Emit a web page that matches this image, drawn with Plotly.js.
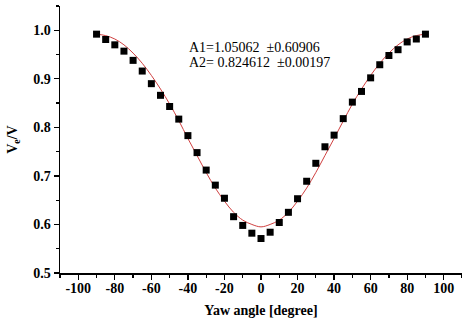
<!DOCTYPE html>
<html>
<head>
<meta charset="utf-8">
<script src="https://cdn.plot.ly/plotly-3.0.1.min.js"></script>
<style>html,body{margin:0;padding:0;background:#fff;}#chart{width:462px;height:323px;}</style>
</head>
<body>
<div id="chart"></div>
<script>
// Measured data (yaw angle in degrees vs velocity ratio)
const yawAngle = [-90,-85,-80,-75,-70,-65,-60,-55,-50,-45,-40,-35,-30,-25,-20,-15,-10,-5,0,5,10,15,20,25,30,35,40,45,50,55,60,65,70,75,80,85,90];
const velocityRatio = [0.992,0.981,0.970,0.957,0.938,0.916,0.890,0.866,0.843,0.817,0.783,0.748,0.712,0.681,0.654,0.616,0.598,0.582,0.571,0.584,0.604,0.625,0.653,0.689,0.726,0.760,0.784,0.818,0.852,0.874,0.902,0.929,0.948,0.960,0.976,0.982,0.992];

// Fit curve
const fitAngle = [-90,-85,-80,-75,-70,-65,-60,-55,-50,-45,-40,-35,-30,-25,-20,-15,-10,-5,0,5,10,15,20,25,30,35,40,45,50,55,60,65,70,75,80,85,90];
const fitRatio = [0.992,0.989,0.982,0.970,0.953,0.932,0.907,0.879,0.848,0.814,0.777,0.742,0.707,0.675,0.648,0.625,0.609,0.600,0.595,0.600,0.609,0.625,0.648,0.675,0.707,0.742,0.777,0.813,0.848,0.879,0.907,0.932,0.953,0.970,0.982,0.989,0.992];

const xTicks = [-100,-80,-60,-40,-20,0,20,40,60,80,100];
const yTicks = [0.5,0.6,0.7,0.8,0.9,1.0];
const yTickText = ['0.5','0.6','0.7','0.8','0.9','1.0'];
const fitText = ['A1=1.05062 &nbsp;±0.60906', 'A2= 0.824612 &nbsp;±0.00197'];

const serif = 'Liberation Serif, Times New Roman, serif';

const traces = [
  {x: fitAngle, y: fitRatio, mode: 'lines', line: {color: '#d04040', width: 1, shape: 'spline'}, hoverinfo: 'skip'},
  {x: yawAngle, y: velocityRatio, mode: 'markers', marker: {symbol: 'square', size: 7, color: '#000'}}
];

const layout = {
  width: 462, height: 323,
  margin: {l: 60, r: 0, t: 6, b: 50},
  paper_bgcolor: '#fff', plot_bgcolor: '#fff',
  showlegend: false,
  font: {family: serif, color: '#000'},
  xaxis: {
    range: [-110, 110], showgrid: false, zeroline: false,
    showline: true, linecolor: '#000', linewidth: 1.5,
    ticks: 'outside', ticklen: 5, tickwidth: 1.2, tickcolor: '#000',
    tickvals: xTicks, ticktext: xTicks.map(String),
    tickfont: {family: serif, size: 14, weight: 'bold'},
    ticklabelstandoff: -3,
    minor: {ticks: 'outside', ticklen: 3, tickwidth: 1.2, tickcolor: '#000', dtick: 10, showgrid: false},
    title: {text: '<b>Yaw angle [degree]</b>', font: {family: serif, size: 14}, standoff: 10}
  },
  yaxis: {
    range: [0.5, 1.05], showgrid: false, zeroline: false,
    showline: true, linecolor: '#000', linewidth: 1.5,
    ticks: 'outside', ticklen: 5, tickwidth: 1.2, tickcolor: '#000',
    tickvals: yTicks, ticktext: yTickText,
    tickfont: {family: serif, size: 14, weight: 'bold'},
    minor: {ticks: 'outside', ticklen: 3, tickwidth: 1.2, tickcolor: '#000', dtick: 0.05, showgrid: false},
    title: {text: '<b>V<sub>e</sub>/V</b>', font: {family: serif, size: 14}, standoff: 12}
  },
  annotations: [
    {xref: 'paper', yref: 'paper', x: 0.316, y: 0.843, xanchor: 'left', yanchor: 'middle', showarrow: false, text: fitText[0], font: {family: serif, size: 14}},
    {xref: 'paper', yref: 'paper', x: 0.316, y: 0.787, xanchor: 'left', yanchor: 'middle', showarrow: false, text: fitText[1], font: {family: serif, size: 14}}
  ]
};

Plotly.newPlot('chart', traces, layout, {displayModeBar: false, staticPlot: true});
</script>
</body>
</html>
